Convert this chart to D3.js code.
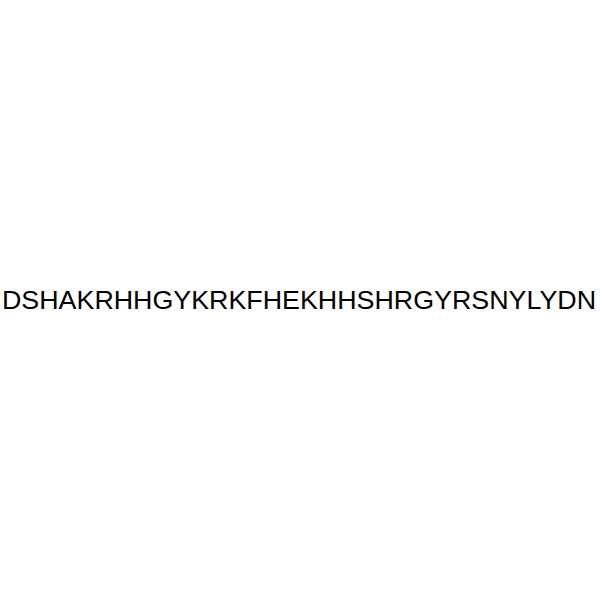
<!DOCTYPE html>
<html>
<head>
<meta charset="utf-8">
<script src="https://cdn.jsdelivr.net/npm/d3@7"></script>
<style>
  html, body { margin: 0; padding: 0; background: #fff; }
</style>
</head>
<body>
<svg id="chart" width="600" height="600"></svg>
<script>
const SEQUENCE = "DSHAKRHHGYKRKFHEKHHSHRGYRSNYLYDN".split("");

const width = 600;
const height = 600;

const svg = d3.select("#chart")
  .attr("viewBox", `0 0 ${width} ${height}`);

// horizontal span of the label and its baseline
const x = d3.scaleLinear().domain([0, 1]).range([2, 596]);
const y = d3.scaleLinear().domain([0, 1]).range([0, height]);

svg.append("text")
  .attr("x", x(0))
  .attr("y", y(0.5) + 8.5)
  .attr("text-anchor", "start")
  .attr("font-family", "Liberation Sans, Arial, sans-serif")
  .attr("font-size", 26.5)
  .attr("fill", "#000")
  .attr("textLength", x(1) - x(0))
  .attr("lengthAdjust", "spacingAndGlyphs")
  .text(SEQUENCE.join(""));
</script>
</body>
</html>
